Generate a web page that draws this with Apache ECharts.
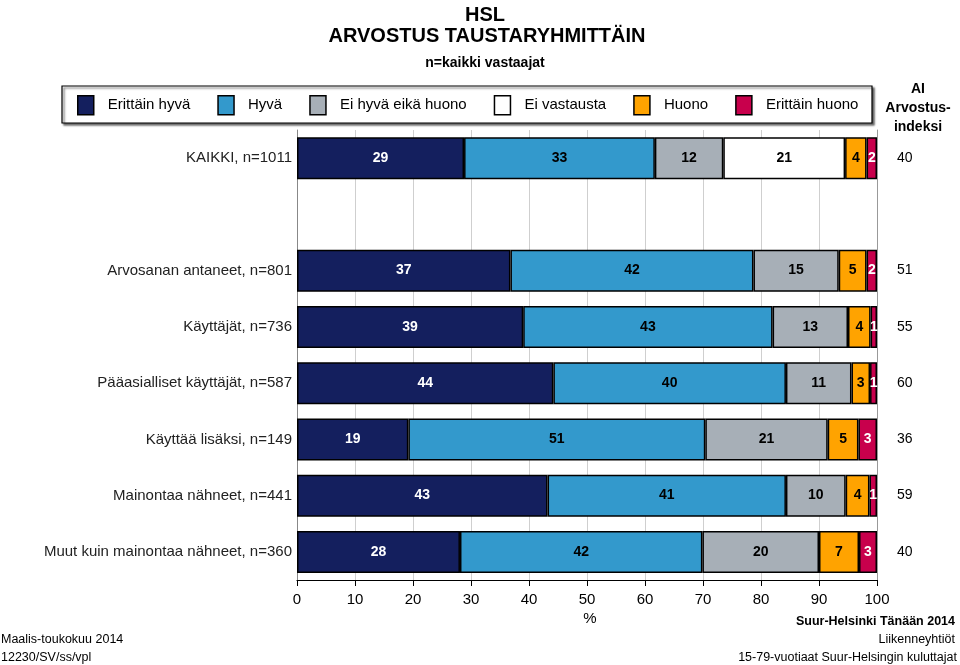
<!DOCTYPE html>
<html>
<head>
<meta charset="utf-8">
<script src="https://cdn.jsdelivr.net/npm/echarts@6/dist/echarts.min.js"></script>
<style>
html,body{margin:0;padding:0;background:#fff;}
#chart{width:960px;height:665px;}
</style>
</head>
<body>
<div id="chart"></div>
<script>
const categories = [
  'KAIKKI, n=1011',
  '',
  'Arvosanan antaneet, n=801',
  'Käyttäjät, n=736',
  'Pääasialliset käyttäjät, n=587',
  'Käyttää lisäksi, n=149',
  'Mainontaa nähneet, n=441',
  'Muut kuin mainontaa nähneet, n=360'
];
const seriesNames = ['Erittäin hyvä', 'Hyvä', 'Ei hyvä eikä huono', 'Ei vastausta', 'Huono', 'Erittäin huono'];
const erittainHyva    = [28.8, '-', 36.8, 39.0, 44.2, 19.2, 43.2, 28.1];
const hyva            = [32.9, '-', 41.9, 43.0, 40.1, 51.2, 41.1, 41.8];
const eiHyvaEikaHuono = [11.8, '-', 14.7, 13.0, 11.3, 21.1, 10.3, 20.1];
const eiVastausta     = [21.0, '-', '-', '-', '-', '-', '-', '-'];
const huono           = [3.7, '-', 4.8, 3.9, 3.2, 5.3, 4.1, 6.9];
const erittainHuono   = [1.8, '-', 1.8, 1.1, 1.2, 3.2, 1.3, 3.1];
const arvostusindeksi = ['40', '', '51', '55', '60', '36', '59', '40'];

const seriesData = [erittainHyva, hyva, eiHyvaEikaHuono, eiVastausta, huono, erittainHuono];
const colors = ['#141f5e', '#3399cc', '#a7afb7', '#ffffff', '#ffa300', '#c8004c'];
const labelColors = ['#ffffff', '#000000', '#000000', '#000000', '#000000', '#ffffff'];

const FONT = '"Liberation Sans", Arial, sans-serif';

const chart = echarts.init(document.getElementById('chart'), null, {renderer: 'canvas'});

const series = seriesData.map((d, i) => ({
  name: seriesNames[i],
  type: 'bar',
  stack: 'total',
  data: d,
  barWidth: 42,
  xAxisIndex: 0,
  yAxisIndex: 0,
  itemStyle: {color: colors[i], borderColor: '#000', borderWidth: 1.5},
  label: {
    show: true,
    position: 'inside',
    fontFamily: FONT,
    fontSize: 14,
    fontWeight: 'bold',
    color: labelColors[i],
    formatter: p => (typeof p.value === 'number' ? String(Math.round(p.value)) : '')
  },
  emphasis: {disabled: true},
  animation: false
}));

const option = {
  animation: false,
  textStyle: {fontFamily: FONT},
  title: [
    {text: 'HSL', left: 480, top: 0, textAlign: 'center',
     textStyle: {fontFamily: FONT, fontSize: 20, fontWeight: 'bold', color: '#000'}},
    {text: 'ARVOSTUS TAUSTARYHMITTÄIN', left: 482, top: 21, textAlign: 'center',
     textStyle: {fontFamily: FONT, fontSize: 20, fontWeight: 'bold', color: '#000'}},
    {text: 'n=kaikki vastaajat', left: 480, top: 51, textAlign: 'center',
     textStyle: {fontFamily: FONT, fontSize: 14, fontWeight: 'bold', color: '#000'}}
  ],
  graphic: [
    {type: 'rect', z: 0, shape: {x: 62, y: 86, width: 810, height: 37},
     style: {fill: '#fff', stroke: '#000', lineWidth: 1.2,
             shadowColor: 'rgba(0,0,0,0.6)', shadowOffsetX: 2, shadowOffsetY: 2, shadowBlur: 2}},
    {type: 'text', x: 918, y: 82, style: {text: 'AI', align: 'center', fontFamily: FONT, fontSize: 14, fontWeight: 'bold', fill: '#000'}},
    {type: 'text', x: 918, y: 101, style: {text: 'Arvostus-', align: 'center', fontFamily: FONT, fontSize: 14, fontWeight: 'bold', fill: '#000'}},
    {type: 'text', x: 918, y: 120, style: {text: 'indeksi', align: 'center', fontFamily: FONT, fontSize: 14, fontWeight: 'bold', fill: '#000'}},
    {type: 'text', x: 590, y: 611, style: {text: '%', align: 'center', fontFamily: FONT, fontSize: 15, fill: '#000'}},
    {type: 'text', x: 955, y: 615, style: {text: 'Suur-Helsinki Tänään 2014', align: 'right', fontFamily: FONT, fontSize: 12.5, fontWeight: 'bold', fill: '#000'}},
    {type: 'text', x: 955, y: 633, style: {text: 'Liikenneyhtiöt', align: 'right', fontFamily: FONT, fontSize: 12.5, fill: '#000'}},
    {type: 'text', x: 957, y: 651, style: {text: '15-79-vuotiaat Suur-Helsingin kuluttajat', align: 'right', fontFamily: FONT, fontSize: 12.5, fill: '#000'}},
    {type: 'text', x: 1, y: 633, style: {text: 'Maalis-toukokuu 2014', align: 'left', fontFamily: FONT, fontSize: 12.5, fill: '#000'}},
    {type: 'text', x: 1, y: 651, style: {text: '12230/SV/ss/vpl', align: 'left', fontFamily: FONT, fontSize: 12.5, fill: '#000'}}
  ],
  legend: {
    left: 77,
    top: 95,
    padding: 0,
    z: 10,
    icon: 'rect',
    itemWidth: 16,
    itemHeight: 19,
    itemGap: 27,
    selectedMode: false,
    data: seriesNames,
    itemStyle: {borderColor: '#000', borderWidth: 1.5},
    textStyle: {fontFamily: FONT, fontSize: 15, color: '#000', padding: [0, 0, 0, 9]}
  },
  grid: {left: 297, right: 83, top: 130, bottom: 85, containLabel: false},
  xAxis: {
    type: 'value',
    min: 0,
    max: 100,
    interval: 10,
    axisLine: {show: true, lineStyle: {color: '#000', width: 1.2}},
    axisTick: {show: true, length: 6, lineStyle: {color: '#000'}},
    axisLabel: {fontFamily: FONT, fontSize: 15, color: '#000', margin: 12},
    splitLine: {show: true, lineStyle: {color: '#cfcfcf', width: 1}}
  },
  yAxis: [
    {
      type: 'category',
      inverse: true,
      data: categories,
      axisLine: {show: true, lineStyle: {color: '#888'}},
      axisTick: {show: false},
      axisLabel: {fontFamily: FONT, fontSize: 15, color: '#222', margin: 5}
    },
    {
      type: 'category',
      inverse: true,
      position: 'right',
      data: arvostusindeksi,
      axisLine: {show: true, lineStyle: {color: '#999'}},
      axisTick: {show: false},
      axisLabel: {fontFamily: FONT, fontSize: 14, color: '#000', margin: 20}
    }
  ],
  series: series
};
chart.setOption(option);
</script>
</body>
</html>
